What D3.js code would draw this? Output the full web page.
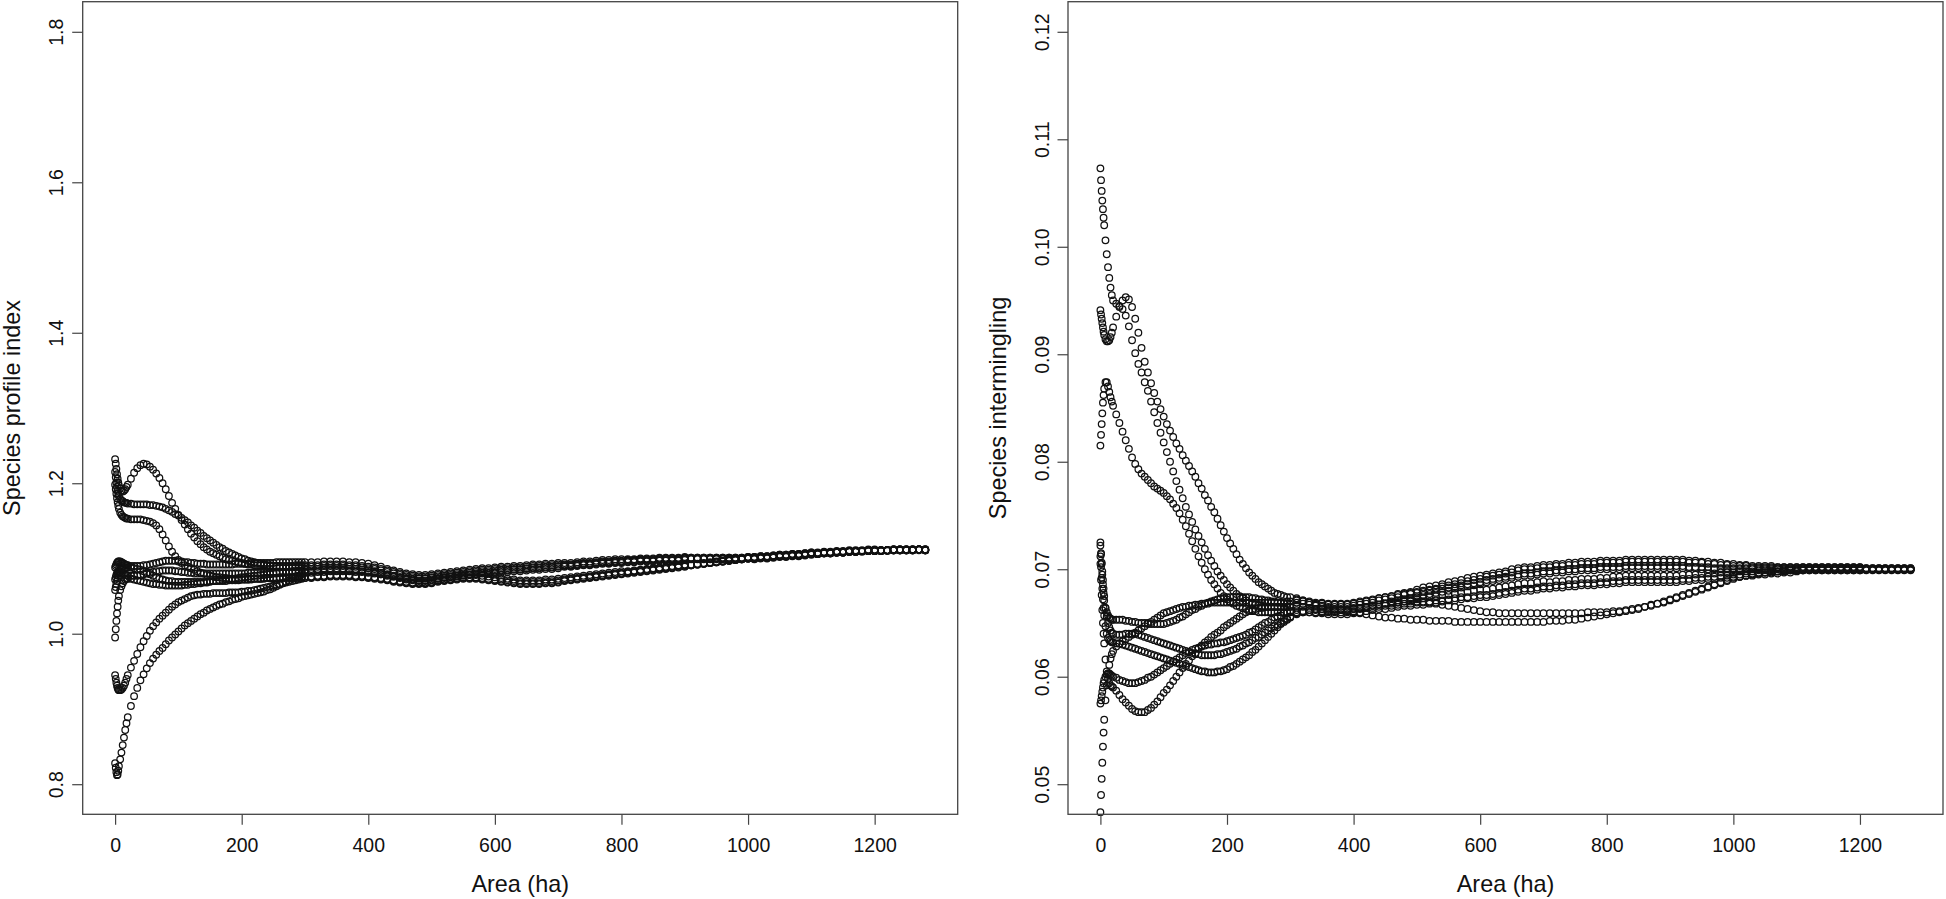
<!DOCTYPE html>
<html>
<head>
<meta charset="utf-8">
<script src="https://cdn.jsdelivr.net/npm/d3@7"></script>
<style>
  html, body { margin: 0; padding: 0; background: #fff; }
  svg { display: block; }
</style>
</head>
<body>
<div id="chart"></div>
<script>
// Plot areas (ha), shared by every series of both panels.
const areas = [0, 1, 2, 3, 4, 5, 6, 8, 10, 12, 14, 16, 18, 20,
  25, 30, 35, 40, 45, 50, 55, 60, 65, 70,
  75, 80, 85, 90, 95, 100, 105, 110, 115, 120,
  125, 130, 135, 140, 145, 150, 155, 160, 165, 170,
  175, 180, 185, 190, 195, 200, 205, 210, 215, 220,
  225, 230, 235, 240, 245, 250, 255, 260, 265, 270,
  275, 280, 285, 290, 295, 300,
  310, 320, 330, 340, 350, 360, 370, 380, 390, 400,
  410, 420, 430, 440, 450, 460, 470, 480, 490, 500,
  510, 520, 530, 540, 550, 560, 570, 580, 590, 600,
  610, 620, 630, 640, 650, 660, 670, 680, 690, 700,
  710, 720, 730, 740, 750, 760, 770, 780, 790, 800,
  810, 820, 830, 840, 850, 860, 870, 880, 890, 900,
  910, 920, 930, 940, 950, 960, 970, 980, 990, 1000,
  1010, 1020, 1030, 1040, 1050, 1060, 1070, 1080, 1090, 1100,
  1110, 1120, 1130, 1140, 1150, 1160, 1170, 1180, 1190, 1200,
  1210, 1220, 1230, 1240, 1250, 1260, 1270, 1280];

// Species profile index, one array per series.
const profile1 = [1.232, 1.226, 1.219, 1.212, 1.206, 1.201, 1.197, 1.193, 1.190, 1.189, 1.190, 1.192, 1.195, 1.198,
  1.206, 1.214, 1.220, 1.224, 1.226, 1.225, 1.222, 1.218, 1.213, 1.207,
  1.200, 1.192, 1.183, 1.174, 1.166, 1.158, 1.151, 1.145, 1.139, 1.133,
  1.128, 1.123, 1.119, 1.115, 1.112, 1.109, 1.107, 1.105, 1.103, 1.101,
  1.099, 1.098, 1.097, 1.096, 1.095, 1.094, 1.093, 1.092, 1.092, 1.091,
  1.091, 1.091, 1.091, 1.090, 1.090, 1.090, 1.090, 1.090, 1.090, 1.090,
  1.090, 1.090, 1.091, 1.091, 1.091, 1.091,
  1.091, 1.091, 1.092, 1.092, 1.092, 1.092, 1.091, 1.091, 1.090, 1.089,
  1.088, 1.086, 1.084, 1.082, 1.080, 1.078, 1.077, 1.076, 1.076, 1.077,
  1.078, 1.079, 1.080, 1.081, 1.082, 1.083, 1.084, 1.085, 1.085, 1.086,
  1.087, 1.087, 1.088, 1.088, 1.089, 1.090, 1.090, 1.091, 1.091, 1.092,
  1.092, 1.092, 1.093, 1.094, 1.094, 1.095, 1.096, 1.096, 1.097, 1.097,
  1.098, 1.098, 1.099, 1.099, 1.099, 1.100, 1.100, 1.100, 1.100, 1.101,
  1.101, 1.101, 1.101, 1.101, 1.101, 1.101, 1.101, 1.101, 1.101, 1.102,
  1.102, 1.103, 1.103, 1.104, 1.105, 1.105, 1.106, 1.106, 1.107, 1.108,
  1.107, 1.108, 1.108, 1.109, 1.109, 1.110, 1.110, 1.110, 1.111, 1.111,
  1.111, 1.111, 1.112, 1.112, 1.112, 1.112, 1.112, 1.112];

const profile2 = [1.215, 1.208, 1.201, 1.195, 1.190, 1.186, 1.183, 1.179, 1.177, 1.176, 1.175, 1.174, 1.174, 1.173,
  1.173, 1.172, 1.172, 1.172, 1.172, 1.172, 1.171, 1.171, 1.170, 1.169,
  1.168, 1.166, 1.164, 1.162, 1.159, 1.157, 1.154, 1.151, 1.148, 1.144,
  1.141, 1.137, 1.134, 1.130, 1.127, 1.124, 1.121, 1.118, 1.115, 1.113,
  1.110, 1.108, 1.106, 1.104, 1.102, 1.100, 1.099, 1.097, 1.096, 1.095,
  1.094, 1.093, 1.092, 1.091, 1.091, 1.090, 1.090, 1.089, 1.089, 1.089,
  1.089, 1.089, 1.089, 1.089, 1.089, 1.089,
  1.089, 1.089, 1.090, 1.090, 1.090, 1.090, 1.089, 1.089, 1.088, 1.087,
  1.086, 1.084, 1.082, 1.080, 1.078, 1.076, 1.075, 1.074, 1.074, 1.075,
  1.076, 1.077, 1.078, 1.079, 1.080, 1.081, 1.082, 1.083, 1.083, 1.084,
  1.085, 1.085, 1.086, 1.086, 1.087, 1.088, 1.088, 1.089, 1.089, 1.090,
  1.091, 1.091, 1.092, 1.093, 1.093, 1.094, 1.095, 1.095, 1.096, 1.096,
  1.097, 1.097, 1.098, 1.098, 1.098, 1.099, 1.099, 1.099, 1.099, 1.100,
  1.100, 1.100, 1.100, 1.100, 1.100, 1.100, 1.100, 1.100, 1.100, 1.101,
  1.101, 1.102, 1.102, 1.103, 1.104, 1.104, 1.105, 1.105, 1.106, 1.107,
  1.107, 1.108, 1.108, 1.109, 1.109, 1.110, 1.110, 1.110, 1.111, 1.111,
  1.111, 1.111, 1.112, 1.112, 1.112, 1.112, 1.112, 1.112];

const profile3 = [1.198, 1.192, 1.186, 1.180, 1.175, 1.170, 1.166, 1.161, 1.158, 1.156, 1.155, 1.154, 1.153, 1.153,
  1.152, 1.152, 1.152, 1.152, 1.151, 1.150, 1.149, 1.147, 1.144, 1.139,
  1.132, 1.124, 1.116, 1.109, 1.103, 1.098, 1.094, 1.091, 1.089, 1.087,
  1.085, 1.083, 1.081, 1.080, 1.078, 1.077, 1.076, 1.075, 1.075, 1.074,
  1.074, 1.073, 1.073, 1.073, 1.072, 1.072, 1.072, 1.072, 1.073, 1.073,
  1.073, 1.073, 1.074, 1.074, 1.074, 1.074, 1.074, 1.074, 1.074, 1.074,
  1.074, 1.074, 1.074, 1.074, 1.074, 1.074,
  1.074, 1.075, 1.075, 1.076, 1.076, 1.076, 1.076, 1.075, 1.075, 1.074,
  1.073, 1.072, 1.071, 1.069, 1.068, 1.067, 1.066, 1.066, 1.066, 1.067,
  1.069, 1.070, 1.071, 1.072, 1.073, 1.073, 1.073, 1.072, 1.071, 1.070,
  1.069, 1.068, 1.067, 1.066, 1.066, 1.066, 1.066, 1.067, 1.067, 1.068,
  1.070, 1.071, 1.072, 1.073, 1.074, 1.075, 1.076, 1.077, 1.078, 1.079,
  1.080, 1.081, 1.082, 1.083, 1.084, 1.085, 1.086, 1.087, 1.088, 1.089,
  1.091, 1.092, 1.093, 1.094, 1.095, 1.096, 1.097, 1.098, 1.099, 1.100,
  1.100, 1.101, 1.101, 1.102, 1.103, 1.103, 1.104, 1.104, 1.105, 1.106,
  1.106, 1.107, 1.107, 1.108, 1.108, 1.109, 1.109, 1.110, 1.110, 1.110,
  1.110, 1.111, 1.111, 1.111, 1.111, 1.111, 1.112, 1.111];

const profile4 = [1.088, 1.090, 1.092, 1.094, 1.095, 1.096, 1.096, 1.096, 1.095, 1.094, 1.093, 1.092, 1.091, 1.091,
  1.090, 1.090, 1.090, 1.090, 1.091, 1.091, 1.092, 1.093, 1.094, 1.095,
  1.096, 1.097, 1.097, 1.097, 1.097, 1.096, 1.096, 1.095, 1.095, 1.094,
  1.094, 1.093, 1.093, 1.093, 1.092, 1.092, 1.092, 1.092, 1.092, 1.092,
  1.092, 1.092, 1.092, 1.093, 1.093, 1.093, 1.093, 1.093, 1.094, 1.094,
  1.094, 1.094, 1.094, 1.094, 1.094, 1.094, 1.095, 1.095, 1.095, 1.095,
  1.095, 1.095, 1.095, 1.095, 1.095, 1.095,
  1.095, 1.095, 1.096, 1.096, 1.096, 1.096, 1.095, 1.095, 1.094, 1.093,
  1.091, 1.089, 1.086, 1.084, 1.082, 1.080, 1.079, 1.078, 1.078, 1.079,
  1.080, 1.081, 1.082, 1.083, 1.084, 1.085, 1.086, 1.087, 1.087, 1.088,
  1.089, 1.089, 1.090, 1.090, 1.091, 1.092, 1.092, 1.093, 1.093, 1.094,
  1.094, 1.094, 1.095, 1.096, 1.096, 1.097, 1.098, 1.098, 1.099, 1.099,
  1.099, 1.099, 1.100, 1.100, 1.100, 1.101, 1.101, 1.101, 1.101, 1.102,
  1.101, 1.101, 1.101, 1.101, 1.101, 1.101, 1.101, 1.101, 1.101, 1.102,
  1.102, 1.103, 1.103, 1.104, 1.105, 1.105, 1.106, 1.106, 1.107, 1.108,
  1.108, 1.109, 1.109, 1.110, 1.110, 1.111, 1.111, 1.111, 1.112, 1.112,
  1.111, 1.111, 1.112, 1.112, 1.112, 1.112, 1.112, 1.112];

const profile5 = [1.072, 1.075, 1.078, 1.080, 1.082, 1.083, 1.083, 1.082, 1.081, 1.080, 1.079, 1.078, 1.078, 1.077,
  1.077, 1.077, 1.077, 1.078, 1.079, 1.080, 1.081, 1.082, 1.083, 1.083,
  1.084, 1.084, 1.084, 1.084, 1.083, 1.083, 1.082, 1.082, 1.081, 1.081,
  1.080, 1.080, 1.080, 1.080, 1.080, 1.080, 1.080, 1.080, 1.080, 1.080,
  1.080, 1.080, 1.080, 1.080, 1.080, 1.080, 1.080, 1.081, 1.081, 1.081,
  1.081, 1.081, 1.081, 1.081, 1.081, 1.081, 1.081, 1.081, 1.081, 1.081,
  1.081, 1.081, 1.081, 1.081, 1.081, 1.081,
  1.081, 1.082, 1.082, 1.083, 1.083, 1.083, 1.083, 1.082, 1.082, 1.081,
  1.080, 1.079, 1.078, 1.076, 1.075, 1.074, 1.073, 1.073, 1.073, 1.074,
  1.074, 1.075, 1.076, 1.077, 1.078, 1.078, 1.078, 1.077, 1.076, 1.075,
  1.074, 1.073, 1.072, 1.071, 1.071, 1.071, 1.071, 1.072, 1.072, 1.073,
  1.074, 1.075, 1.076, 1.077, 1.078, 1.079, 1.080, 1.081, 1.082, 1.083,
  1.083, 1.084, 1.085, 1.086, 1.087, 1.088, 1.089, 1.090, 1.091, 1.092,
  1.092, 1.093, 1.094, 1.095, 1.096, 1.097, 1.098, 1.099, 1.100, 1.101,
  1.101, 1.102, 1.102, 1.103, 1.104, 1.104, 1.105, 1.105, 1.106, 1.107,
  1.106, 1.107, 1.107, 1.108, 1.108, 1.109, 1.109, 1.110, 1.110, 1.110,
  1.110, 1.111, 1.111, 1.111, 1.111, 1.111, 1.112, 1.111];

const profile6 = [0.995, 1.006, 1.017, 1.027, 1.036, 1.044, 1.050, 1.058, 1.063, 1.067, 1.070, 1.072, 1.073, 1.073,
  1.073, 1.072, 1.071, 1.070, 1.069, 1.068, 1.067, 1.066, 1.066, 1.065,
  1.065, 1.064, 1.064, 1.064, 1.064, 1.064, 1.064, 1.065, 1.065, 1.066,
  1.066, 1.067, 1.067, 1.068, 1.068, 1.069, 1.070, 1.070, 1.071, 1.071,
  1.072, 1.072, 1.073, 1.073, 1.074, 1.075, 1.075, 1.076, 1.076, 1.077,
  1.077, 1.078, 1.078, 1.079, 1.079, 1.080, 1.080, 1.081, 1.081, 1.082,
  1.082, 1.083, 1.083, 1.084, 1.084, 1.085,
  1.086, 1.086, 1.087, 1.087, 1.087, 1.087, 1.086, 1.086, 1.085, 1.084,
  1.083, 1.081, 1.079, 1.077, 1.075, 1.073, 1.072, 1.071, 1.071, 1.072,
  1.073, 1.074, 1.075, 1.076, 1.077, 1.078, 1.079, 1.080, 1.080, 1.081,
  1.082, 1.082, 1.083, 1.083, 1.084, 1.085, 1.085, 1.086, 1.086, 1.087,
  1.089, 1.089, 1.090, 1.091, 1.091, 1.092, 1.093, 1.093, 1.094, 1.094,
  1.095, 1.095, 1.096, 1.096, 1.096, 1.097, 1.097, 1.097, 1.097, 1.098,
  1.099, 1.099, 1.099, 1.099, 1.099, 1.099, 1.099, 1.099, 1.099, 1.100,
  1.100, 1.101, 1.101, 1.102, 1.103, 1.103, 1.104, 1.104, 1.105, 1.106,
  1.107, 1.108, 1.108, 1.109, 1.109, 1.110, 1.110, 1.110, 1.111, 1.111,
  1.111, 1.111, 1.112, 1.112, 1.112, 1.112, 1.112, 1.112];

const profile7 = [1.058, 1.062, 1.066, 1.070, 1.074, 1.077, 1.080, 1.083, 1.085, 1.086, 1.087, 1.088, 1.088, 1.088,
  1.088, 1.087, 1.086, 1.085, 1.083, 1.081, 1.079, 1.077, 1.075, 1.073,
  1.072, 1.071, 1.070, 1.070, 1.069, 1.069, 1.069, 1.069, 1.069, 1.069,
  1.069, 1.069, 1.069, 1.069, 1.069, 1.070, 1.070, 1.070, 1.070, 1.070,
  1.070, 1.071, 1.071, 1.071, 1.071, 1.072, 1.072, 1.072, 1.072, 1.073,
  1.073, 1.073, 1.073, 1.074, 1.074, 1.074, 1.074, 1.075, 1.075, 1.075,
  1.075, 1.075, 1.076, 1.076, 1.076, 1.076,
  1.076, 1.077, 1.077, 1.078, 1.078, 1.078, 1.078, 1.077, 1.077, 1.076,
  1.075, 1.074, 1.073, 1.071, 1.070, 1.069, 1.068, 1.068, 1.068, 1.069,
  1.071, 1.072, 1.073, 1.074, 1.075, 1.075, 1.075, 1.074, 1.073, 1.072,
  1.072, 1.071, 1.070, 1.069, 1.069, 1.069, 1.069, 1.070, 1.070, 1.071,
  1.072, 1.073, 1.074, 1.075, 1.076, 1.077, 1.078, 1.079, 1.080, 1.081,
  1.082, 1.083, 1.084, 1.085, 1.086, 1.087, 1.088, 1.089, 1.090, 1.091,
  1.091, 1.092, 1.093, 1.094, 1.095, 1.096, 1.097, 1.098, 1.099, 1.100,
  1.099, 1.100, 1.100, 1.101, 1.102, 1.102, 1.103, 1.103, 1.104, 1.105,
  1.106, 1.107, 1.107, 1.108, 1.108, 1.109, 1.109, 1.110, 1.110, 1.110,
  1.110, 1.111, 1.111, 1.111, 1.111, 1.111, 1.112, 1.111];

const profile8 = [0.945, 0.940, 0.935, 0.931, 0.928, 0.926, 0.925, 0.925, 0.926, 0.928, 0.931, 0.935, 0.940, 0.945,
  0.955, 0.964, 0.973, 0.982, 0.990, 0.997, 1.004, 1.010, 1.015, 1.020,
  1.024, 1.028, 1.032, 1.036, 1.039, 1.042, 1.044, 1.046, 1.048, 1.050,
  1.051, 1.052, 1.052, 1.053, 1.053, 1.053, 1.054, 1.054, 1.054, 1.054,
  1.054, 1.055, 1.055, 1.055, 1.055, 1.056, 1.056, 1.057, 1.057, 1.058,
  1.059, 1.060, 1.061, 1.062, 1.063, 1.064, 1.065, 1.066, 1.067, 1.068,
  1.069, 1.070, 1.071, 1.072, 1.073, 1.074,
  1.075, 1.076, 1.076, 1.077, 1.077, 1.077, 1.077, 1.076, 1.076, 1.075,
  1.074, 1.073, 1.072, 1.070, 1.069, 1.068, 1.067, 1.067, 1.067, 1.068,
  1.070, 1.071, 1.072, 1.073, 1.074, 1.074, 1.074, 1.073, 1.072, 1.071,
  1.070, 1.069, 1.068, 1.067, 1.067, 1.067, 1.067, 1.068, 1.068, 1.069,
  1.071, 1.072, 1.073, 1.074, 1.075, 1.076, 1.077, 1.078, 1.079, 1.080,
  1.081, 1.082, 1.083, 1.084, 1.085, 1.086, 1.087, 1.088, 1.089, 1.090,
  1.091, 1.092, 1.093, 1.094, 1.095, 1.096, 1.097, 1.098, 1.099, 1.100,
  1.100, 1.101, 1.101, 1.102, 1.103, 1.103, 1.104, 1.104, 1.105, 1.106,
  1.106, 1.107, 1.107, 1.108, 1.108, 1.109, 1.109, 1.110, 1.110, 1.110,
  1.110, 1.111, 1.111, 1.111, 1.111, 1.111, 1.112, 1.111];

const profile9 = [0.828, 0.822, 0.816, 0.812, 0.813, 0.818, 0.824, 0.833, 0.842, 0.852, 0.862, 0.872, 0.881, 0.889,
  0.904, 0.917, 0.928, 0.938, 0.946, 0.954, 0.961, 0.967, 0.972, 0.977,
  0.981, 0.986, 0.991, 0.995, 0.999, 1.003, 1.007, 1.011, 1.014, 1.017,
  1.020, 1.023, 1.026, 1.028, 1.031, 1.033, 1.035, 1.037, 1.039, 1.040,
  1.042, 1.043, 1.045, 1.046, 1.047, 1.049, 1.050, 1.051, 1.052, 1.053,
  1.054, 1.055, 1.056, 1.058, 1.059, 1.061, 1.063, 1.065, 1.067, 1.069,
  1.071, 1.073, 1.075, 1.077, 1.079, 1.081,
  1.084, 1.084, 1.085, 1.085, 1.085, 1.085, 1.084, 1.084, 1.083, 1.082,
  1.081, 1.079, 1.077, 1.076, 1.074, 1.072, 1.071, 1.070, 1.070, 1.071,
  1.073, 1.075, 1.076, 1.077, 1.078, 1.079, 1.080, 1.081, 1.081, 1.082,
  1.084, 1.084, 1.085, 1.085, 1.086, 1.087, 1.087, 1.088, 1.088, 1.089,
  1.090, 1.090, 1.091, 1.092, 1.092, 1.093, 1.094, 1.094, 1.095, 1.095,
  1.096, 1.096, 1.097, 1.097, 1.097, 1.098, 1.098, 1.098, 1.098, 1.099,
  1.100, 1.100, 1.100, 1.100, 1.100, 1.100, 1.100, 1.100, 1.100, 1.101,
  1.101, 1.102, 1.102, 1.103, 1.104, 1.104, 1.105, 1.105, 1.106, 1.107,
  1.106, 1.107, 1.107, 1.108, 1.108, 1.109, 1.109, 1.109, 1.110, 1.110,
  1.110, 1.110, 1.111, 1.111, 1.111, 1.111, 1.111, 1.111];

// Species intermingling, one array per series.
const mingling1 = [0.1073, 0.1062, 0.1052, 0.1043, 0.1035, 0.1027, 0.1020, 0.1006, 0.0993, 0.0981, 0.0971, 0.0962, 0.0955, 0.0950,
  0.0947, 0.0945, 0.0942, 0.0936, 0.0926, 0.0913, 0.0901, 0.0891, 0.0883, 0.0874,
  0.0866, 0.0856, 0.0846, 0.0836, 0.0827, 0.0818, 0.0809, 0.0800, 0.0791, 0.0782,
  0.0774, 0.0766, 0.0758, 0.0751, 0.0744, 0.0737, 0.0731, 0.0725, 0.0719, 0.0713,
  0.0708, 0.0703, 0.0698, 0.0694, 0.0690, 0.0686, 0.0683, 0.0680, 0.0677, 0.0675,
  0.0673, 0.0671, 0.0669, 0.0668, 0.0667, 0.0666, 0.0665, 0.0665, 0.0665, 0.0665,
  0.0665, 0.0665, 0.0665, 0.0665, 0.0665, 0.0665,
  0.0669, 0.0668, 0.0667, 0.0666, 0.0666, 0.0665, 0.0665, 0.0665, 0.0665, 0.0666,
  0.0667, 0.0668, 0.0669, 0.0671, 0.0672, 0.0673, 0.0674, 0.0676, 0.0677, 0.0678,
  0.0680, 0.0681, 0.0682, 0.0684, 0.0685, 0.0686, 0.0687, 0.0689, 0.0690, 0.0691,
  0.0693, 0.0694, 0.0695, 0.0696, 0.0697, 0.0699, 0.0700, 0.0700, 0.0701, 0.0702,
  0.0702, 0.0703, 0.0703, 0.0704, 0.0704, 0.0705, 0.0705, 0.0705, 0.0706, 0.0706,
  0.0706, 0.0706, 0.0707, 0.0707, 0.0707, 0.0707, 0.0707, 0.0707, 0.0707, 0.0707,
  0.0707, 0.0707, 0.0706, 0.0706, 0.0706, 0.0705, 0.0705, 0.0704, 0.0704, 0.0703,
  0.0703, 0.0703, 0.0702, 0.0702, 0.0702, 0.0702, 0.0702, 0.0702, 0.0702, 0.0702,
  0.0702, 0.0702, 0.0702, 0.0702, 0.0702, 0.0702, 0.0702, 0.0702, 0.0702, 0.0702,
  0.0701, 0.0701, 0.0701, 0.0701, 0.0701, 0.0701, 0.0701, 0.0701];

const mingling2 = [0.0941, 0.0937, 0.0933, 0.0929, 0.0925, 0.0921, 0.0918, 0.0914, 0.0912, 0.0912, 0.0913, 0.0916, 0.0920, 0.0925,
  0.0935, 0.0944, 0.0950, 0.0953, 0.0951, 0.0944, 0.0933, 0.0920, 0.0906, 0.0893,
  0.0883, 0.0873, 0.0864, 0.0856, 0.0849, 0.0842, 0.0835, 0.0829, 0.0823, 0.0817,
  0.0812, 0.0806, 0.0801, 0.0796, 0.0791, 0.0786, 0.0780, 0.0775, 0.0769, 0.0764,
  0.0758, 0.0753, 0.0747, 0.0741, 0.0735, 0.0729, 0.0724, 0.0719, 0.0714, 0.0709,
  0.0705, 0.0701, 0.0697, 0.0694, 0.0691, 0.0688, 0.0686, 0.0684, 0.0682, 0.0680,
  0.0678, 0.0677, 0.0676, 0.0675, 0.0674, 0.0674,
  0.0673, 0.0671, 0.0669, 0.0667, 0.0665, 0.0664, 0.0663, 0.0662, 0.0661, 0.0660,
  0.0659, 0.0658, 0.0657, 0.0656, 0.0655, 0.0655, 0.0654, 0.0654, 0.0653, 0.0653,
  0.0653, 0.0652, 0.0652, 0.0652, 0.0652, 0.0651, 0.0651, 0.0651, 0.0651, 0.0651,
  0.0651, 0.0651, 0.0651, 0.0651, 0.0651, 0.0651, 0.0651, 0.0651, 0.0651, 0.0651,
  0.0652, 0.0652, 0.0652, 0.0653, 0.0653, 0.0654, 0.0655, 0.0656, 0.0657, 0.0658,
  0.0659, 0.0660, 0.0661, 0.0662, 0.0663, 0.0665, 0.0666, 0.0668, 0.0669, 0.0671,
  0.0673, 0.0675, 0.0677, 0.0679, 0.0681, 0.0683, 0.0685, 0.0687, 0.0689, 0.0691,
  0.0693, 0.0694, 0.0695, 0.0696, 0.0697, 0.0698, 0.0698, 0.0699, 0.0699, 0.0700,
  0.0700, 0.0700, 0.0700, 0.0700, 0.0700, 0.0700, 0.0700, 0.0700, 0.0700, 0.0700,
  0.0700, 0.0700, 0.0700, 0.0700, 0.0700, 0.0700, 0.0700, 0.0700];

const mingling3 = [0.0815, 0.0825, 0.0835, 0.0845, 0.0855, 0.0862, 0.0868, 0.0874, 0.0874, 0.0870, 0.0865, 0.0860, 0.0856, 0.0852,
  0.0844, 0.0836, 0.0828, 0.0820, 0.0812, 0.0804, 0.0798, 0.0793, 0.0789, 0.0786,
  0.0783, 0.0780, 0.0777, 0.0775, 0.0773, 0.0771, 0.0768, 0.0765, 0.0761, 0.0757,
  0.0752, 0.0746, 0.0740, 0.0733, 0.0726, 0.0719, 0.0712, 0.0706, 0.0700, 0.0695,
  0.0690, 0.0686, 0.0682, 0.0678, 0.0675, 0.0672, 0.0670, 0.0668, 0.0666, 0.0665,
  0.0664, 0.0663, 0.0662, 0.0661, 0.0661, 0.0660, 0.0660, 0.0660, 0.0660, 0.0660,
  0.0660, 0.0660, 0.0660, 0.0660, 0.0660, 0.0660,
  0.0660, 0.0660, 0.0660, 0.0660, 0.0660, 0.0661, 0.0661, 0.0662, 0.0662, 0.0663,
  0.0664, 0.0665, 0.0666, 0.0667, 0.0668, 0.0669, 0.0669, 0.0670, 0.0670, 0.0670,
  0.0670, 0.0669, 0.0668, 0.0667, 0.0666, 0.0665, 0.0664, 0.0663, 0.0662, 0.0661,
  0.0660, 0.0660, 0.0659, 0.0659, 0.0659, 0.0659, 0.0659, 0.0659, 0.0659, 0.0659,
  0.0659, 0.0659, 0.0659, 0.0659, 0.0659, 0.0659, 0.0660, 0.0660, 0.0660, 0.0660,
  0.0661, 0.0661, 0.0662, 0.0663, 0.0664, 0.0665, 0.0667, 0.0668, 0.0670, 0.0672,
  0.0674, 0.0676, 0.0678, 0.0680, 0.0682, 0.0684, 0.0686, 0.0688, 0.0690, 0.0692,
  0.0693, 0.0694, 0.0695, 0.0696, 0.0697, 0.0697, 0.0698, 0.0698, 0.0699, 0.0699,
  0.0699, 0.0700, 0.0700, 0.0700, 0.0700, 0.0700, 0.0700, 0.0700, 0.0700, 0.0700,
  0.0700, 0.0700, 0.0700, 0.0700, 0.0700, 0.0700, 0.0700, 0.0700];

const mingling4 = [0.0725, 0.0715, 0.0705, 0.0695, 0.0686, 0.0678, 0.0671, 0.0664, 0.0660, 0.0657, 0.0655, 0.0654, 0.0653, 0.0653,
  0.0653, 0.0653, 0.0653, 0.0652, 0.0652, 0.0651, 0.0651, 0.0650, 0.0650, 0.0650,
  0.0650, 0.0649, 0.0649, 0.0649, 0.0649, 0.0649, 0.0650, 0.0651, 0.0652, 0.0653,
  0.0655, 0.0656, 0.0658, 0.0660, 0.0662, 0.0663, 0.0665, 0.0666, 0.0668, 0.0669,
  0.0670, 0.0671, 0.0672, 0.0673, 0.0673, 0.0674, 0.0674, 0.0674, 0.0674, 0.0674,
  0.0674, 0.0674, 0.0674, 0.0673, 0.0673, 0.0672, 0.0672, 0.0671, 0.0671, 0.0670,
  0.0670, 0.0669, 0.0669, 0.0668, 0.0668, 0.0667,
  0.0671, 0.0670, 0.0669, 0.0668, 0.0668, 0.0667, 0.0667, 0.0667, 0.0667, 0.0668,
  0.0669, 0.0670, 0.0671, 0.0673, 0.0674, 0.0675, 0.0677, 0.0678, 0.0679, 0.0681,
  0.0683, 0.0684, 0.0685, 0.0686, 0.0688, 0.0689, 0.0690, 0.0692, 0.0693, 0.0694,
  0.0695, 0.0696, 0.0697, 0.0698, 0.0700, 0.0701, 0.0702, 0.0702, 0.0703, 0.0704,
  0.0704, 0.0705, 0.0705, 0.0706, 0.0706, 0.0707, 0.0707, 0.0707, 0.0708, 0.0708,
  0.0708, 0.0708, 0.0709, 0.0709, 0.0709, 0.0709, 0.0709, 0.0709, 0.0709, 0.0709,
  0.0709, 0.0709, 0.0708, 0.0708, 0.0707, 0.0707, 0.0706, 0.0706, 0.0705, 0.0705,
  0.0704, 0.0704, 0.0703, 0.0703, 0.0703, 0.0703, 0.0702, 0.0702, 0.0702, 0.0702,
  0.0702, 0.0702, 0.0702, 0.0702, 0.0702, 0.0702, 0.0702, 0.0702, 0.0702, 0.0702,
  0.0701, 0.0701, 0.0701, 0.0701, 0.0701, 0.0701, 0.0701, 0.0701];

const mingling5 = [0.0712, 0.0702, 0.0692, 0.0682, 0.0672, 0.0664, 0.0657, 0.0647, 0.0640, 0.0636, 0.0634, 0.0633, 0.0632, 0.0632,
  0.0631, 0.0631, 0.0630, 0.0629, 0.0628, 0.0627, 0.0626, 0.0625, 0.0624, 0.0623,
  0.0622, 0.0621, 0.0620, 0.0619, 0.0618, 0.0617, 0.0616, 0.0615, 0.0614, 0.0613,
  0.0612, 0.0611, 0.0610, 0.0609, 0.0608, 0.0607, 0.0606, 0.0605, 0.0605, 0.0604,
  0.0604, 0.0604, 0.0605, 0.0605, 0.0606, 0.0607, 0.0609, 0.0610, 0.0612, 0.0614,
  0.0616, 0.0618, 0.0620, 0.0623, 0.0625, 0.0628, 0.0631, 0.0634, 0.0637, 0.0640,
  0.0643, 0.0646, 0.0649, 0.0651, 0.0654, 0.0656,
  0.0659, 0.0661, 0.0662, 0.0662, 0.0661, 0.0660, 0.0660, 0.0660, 0.0660, 0.0661,
  0.0663, 0.0664, 0.0664, 0.0665, 0.0666, 0.0666, 0.0667, 0.0668, 0.0668, 0.0669,
  0.0669, 0.0670, 0.0671, 0.0671, 0.0672, 0.0673, 0.0674, 0.0674, 0.0675, 0.0676,
  0.0676, 0.0677, 0.0678, 0.0679, 0.0680, 0.0681, 0.0682, 0.0682, 0.0683, 0.0684,
  0.0684, 0.0685, 0.0685, 0.0686, 0.0686, 0.0687, 0.0687, 0.0687, 0.0688, 0.0688,
  0.0689, 0.0689, 0.0690, 0.0690, 0.0690, 0.0690, 0.0690, 0.0690, 0.0690, 0.0690,
  0.0690, 0.0691, 0.0691, 0.0692, 0.0692, 0.0693, 0.0693, 0.0694, 0.0694, 0.0695,
  0.0695, 0.0696, 0.0696, 0.0697, 0.0697, 0.0698, 0.0698, 0.0698, 0.0699, 0.0699,
  0.0699, 0.0699, 0.0699, 0.0699, 0.0699, 0.0699, 0.0699, 0.0699, 0.0699, 0.0699,
  0.0700, 0.0700, 0.0700, 0.0700, 0.0700, 0.0700, 0.0700, 0.0700];

const mingling6 = [0.0705, 0.0690, 0.0676, 0.0662, 0.0650, 0.0640, 0.0631, 0.0616, 0.0605, 0.0598, 0.0594, 0.0592, 0.0591, 0.0590,
  0.0587, 0.0583, 0.0579, 0.0576, 0.0573, 0.0570, 0.0568, 0.0567, 0.0567, 0.0567,
  0.0569, 0.0571, 0.0574, 0.0577, 0.0581, 0.0585, 0.0588, 0.0592, 0.0596, 0.0600,
  0.0604, 0.0608, 0.0612, 0.0615, 0.0619, 0.0622, 0.0626, 0.0629, 0.0632, 0.0634,
  0.0637, 0.0639, 0.0641, 0.0643, 0.0646, 0.0648, 0.0650, 0.0652, 0.0654, 0.0656,
  0.0658, 0.0660, 0.0661, 0.0662, 0.0663, 0.0664, 0.0664, 0.0665, 0.0665, 0.0665,
  0.0665, 0.0665, 0.0665, 0.0665, 0.0665, 0.0665,
  0.0666, 0.0665, 0.0664, 0.0663, 0.0663, 0.0662, 0.0662, 0.0662, 0.0662, 0.0663,
  0.0664, 0.0665, 0.0666, 0.0667, 0.0668, 0.0670, 0.0671, 0.0672, 0.0673, 0.0674,
  0.0676, 0.0677, 0.0678, 0.0679, 0.0680, 0.0682, 0.0683, 0.0684, 0.0685, 0.0686,
  0.0688, 0.0689, 0.0690, 0.0691, 0.0692, 0.0693, 0.0694, 0.0694, 0.0695, 0.0696,
  0.0696, 0.0697, 0.0697, 0.0698, 0.0698, 0.0699, 0.0699, 0.0699, 0.0700, 0.0700,
  0.0700, 0.0700, 0.0701, 0.0701, 0.0701, 0.0701, 0.0701, 0.0701, 0.0701, 0.0701,
  0.0701, 0.0701, 0.0701, 0.0701, 0.0700, 0.0700, 0.0700, 0.0700, 0.0700, 0.0700,
  0.0700, 0.0700, 0.0700, 0.0700, 0.0700, 0.0700, 0.0700, 0.0700, 0.0700, 0.0700,
  0.0700, 0.0700, 0.0700, 0.0700, 0.0700, 0.0700, 0.0700, 0.0700, 0.0700, 0.0700,
  0.0700, 0.0700, 0.0700, 0.0700, 0.0700, 0.0700, 0.0700, 0.0700];

const mingling7 = [0.0575, 0.0578, 0.0582, 0.0586, 0.0590, 0.0594, 0.0597, 0.0600, 0.0602, 0.0603, 0.0603, 0.0602, 0.0601, 0.0600,
  0.0599, 0.0597, 0.0596, 0.0595, 0.0594, 0.0594, 0.0594, 0.0595, 0.0596, 0.0597,
  0.0599, 0.0600, 0.0602, 0.0604, 0.0606, 0.0608, 0.0610, 0.0612, 0.0614, 0.0616,
  0.0618, 0.0620, 0.0622, 0.0623, 0.0625, 0.0626, 0.0627, 0.0628, 0.0629, 0.0630,
  0.0630, 0.0631, 0.0631, 0.0632, 0.0632, 0.0633, 0.0634, 0.0635, 0.0636, 0.0637,
  0.0638, 0.0639, 0.0641, 0.0642, 0.0644, 0.0646, 0.0648, 0.0650, 0.0651, 0.0653,
  0.0655, 0.0656, 0.0657, 0.0659, 0.0660, 0.0661,
  0.0662, 0.0661, 0.0660, 0.0659, 0.0659, 0.0658, 0.0658, 0.0658, 0.0658, 0.0659,
  0.0660, 0.0661, 0.0662, 0.0663, 0.0663, 0.0664, 0.0665, 0.0666, 0.0666, 0.0667,
  0.0667, 0.0668, 0.0669, 0.0670, 0.0671, 0.0671, 0.0672, 0.0673, 0.0673, 0.0674,
  0.0674, 0.0675, 0.0676, 0.0677, 0.0678, 0.0679, 0.0680, 0.0680, 0.0681, 0.0682,
  0.0682, 0.0683, 0.0683, 0.0684, 0.0684, 0.0685, 0.0685, 0.0685, 0.0686, 0.0686,
  0.0687, 0.0687, 0.0688, 0.0688, 0.0688, 0.0688, 0.0688, 0.0688, 0.0688, 0.0688,
  0.0688, 0.0689, 0.0689, 0.0690, 0.0690, 0.0691, 0.0691, 0.0692, 0.0692, 0.0693,
  0.0693, 0.0694, 0.0694, 0.0695, 0.0695, 0.0696, 0.0696, 0.0697, 0.0697, 0.0698,
  0.0699, 0.0699, 0.0699, 0.0699, 0.0699, 0.0699, 0.0699, 0.0699, 0.0699, 0.0699,
  0.0699, 0.0699, 0.0699, 0.0699, 0.0699, 0.0699, 0.0699, 0.0699];

const mingling8 = [0.0722, 0.0714, 0.0706, 0.0698, 0.0690, 0.0682, 0.0675, 0.0664, 0.0656, 0.0650, 0.0646, 0.0643, 0.0641, 0.0640,
  0.0639, 0.0639, 0.0639, 0.0640, 0.0640, 0.0640, 0.0640, 0.0639, 0.0638, 0.0637,
  0.0636, 0.0635, 0.0634, 0.0633, 0.0632, 0.0631, 0.0630, 0.0629, 0.0628, 0.0627,
  0.0626, 0.0625, 0.0624, 0.0623, 0.0622, 0.0621, 0.0621, 0.0620, 0.0620, 0.0620,
  0.0620, 0.0620, 0.0621, 0.0621, 0.0622, 0.0623, 0.0624, 0.0625, 0.0626, 0.0628,
  0.0629, 0.0631, 0.0632, 0.0634, 0.0636, 0.0637, 0.0639, 0.0641, 0.0643, 0.0645,
  0.0647, 0.0648, 0.0650, 0.0652, 0.0653, 0.0655,
  0.0658, 0.0660, 0.0662, 0.0663, 0.0663, 0.0663, 0.0663, 0.0663, 0.0663, 0.0664,
  0.0664, 0.0665, 0.0666, 0.0667, 0.0668, 0.0668, 0.0669, 0.0670, 0.0671, 0.0672,
  0.0673, 0.0674, 0.0675, 0.0676, 0.0676, 0.0677, 0.0678, 0.0679, 0.0680, 0.0681,
  0.0681, 0.0682, 0.0683, 0.0684, 0.0685, 0.0686, 0.0687, 0.0687, 0.0688, 0.0689,
  0.0688, 0.0689, 0.0689, 0.0690, 0.0690, 0.0691, 0.0691, 0.0691, 0.0692, 0.0692,
  0.0693, 0.0693, 0.0694, 0.0694, 0.0694, 0.0694, 0.0694, 0.0694, 0.0694, 0.0694,
  0.0694, 0.0695, 0.0695, 0.0695, 0.0696, 0.0696, 0.0696, 0.0697, 0.0697, 0.0697,
  0.0698, 0.0698, 0.0698, 0.0699, 0.0699, 0.0699, 0.0700, 0.0700, 0.0700, 0.0700,
  0.0701, 0.0701, 0.0701, 0.0701, 0.0701, 0.0701, 0.0701, 0.0701, 0.0701, 0.0701,
  0.0700, 0.0700, 0.0700, 0.0700, 0.0700, 0.0700, 0.0700, 0.0700];

const mingling9 = [0.0474, 0.0490, 0.0505, 0.0520, 0.0535, 0.0548, 0.0560, 0.0578, 0.0592, 0.0603, 0.0611, 0.0617, 0.0621, 0.0624,
  0.0628, 0.0631, 0.0633, 0.0635, 0.0637, 0.0639, 0.0641, 0.0643, 0.0645, 0.0647,
  0.0649, 0.0651, 0.0653, 0.0655, 0.0657, 0.0659, 0.0660, 0.0661, 0.0662, 0.0663,
  0.0664, 0.0665, 0.0665, 0.0666, 0.0666, 0.0667, 0.0667, 0.0668, 0.0668, 0.0668,
  0.0669, 0.0669, 0.0669, 0.0669, 0.0669, 0.0669, 0.0669, 0.0669, 0.0669, 0.0669,
  0.0669, 0.0669, 0.0669, 0.0669, 0.0669, 0.0669, 0.0669, 0.0669, 0.0669, 0.0669,
  0.0669, 0.0669, 0.0669, 0.0669, 0.0670, 0.0670,
  0.0672, 0.0671, 0.0670, 0.0669, 0.0669, 0.0668, 0.0668, 0.0668, 0.0668, 0.0669,
  0.0670, 0.0671, 0.0672, 0.0673, 0.0674, 0.0675, 0.0676, 0.0677, 0.0678, 0.0679,
  0.0679, 0.0680, 0.0681, 0.0682, 0.0683, 0.0684, 0.0685, 0.0686, 0.0687, 0.0688,
  0.0690, 0.0691, 0.0692, 0.0693, 0.0694, 0.0695, 0.0696, 0.0696, 0.0697, 0.0698,
  0.0698, 0.0699, 0.0699, 0.0700, 0.0700, 0.0701, 0.0701, 0.0701, 0.0702, 0.0702,
  0.0702, 0.0702, 0.0703, 0.0703, 0.0703, 0.0703, 0.0703, 0.0703, 0.0703, 0.0703,
  0.0703, 0.0703, 0.0702, 0.0702, 0.0702, 0.0702, 0.0701, 0.0701, 0.0701, 0.0701,
  0.0701, 0.0701, 0.0701, 0.0701, 0.0701, 0.0701, 0.0701, 0.0701, 0.0701, 0.0701,
  0.0701, 0.0701, 0.0701, 0.0701, 0.0701, 0.0701, 0.0701, 0.0701, 0.0701, 0.0701,
  0.0700, 0.0700, 0.0700, 0.0700, 0.0700, 0.0700, 0.0700, 0.0700];

// Tick labels and axis titles.
const areaTicks = [0, 200, 400, 600, 800, 1000, 1200];
const profileTicks = [0.8, 1.0, 1.2, 1.4, 1.6, 1.8];
const minglingTicks = [0.05, 0.06, 0.07, 0.08, 0.09, 0.10, 0.11, 0.12];
const profileLimits = [0.8, 1.8];
const minglingLimits = [0.05, 0.12];
const xTitle = 'Area (ha)';
const profileTitle = 'Species profile index';
const minglingTitle = 'Species intermingling';

function chart() {
  const attrs = {
    svgWidth: 1946,
    svgHeight: 899,
    plotTop: 1.7,
    plotBottom: 814.3,
    container: 'body',
    fontFamily: '"Liberation Sans", Arial, Helvetica, sans-serif',
    tickFontSize: 19.5,
    titleFontSize: 23.4,
    tickSize: 10.5,
    pointRadius: 3.3,
    frameColor: '#444',
    areas: null,
    panels: []
  };

  function main() {
    const container = d3.select(attrs.container);

    const svg = container
      .patternify({ tag: 'svg', selector: 'svg-chart-container' })
      .attr('width', attrs.svgWidth)
      .attr('height', attrs.svgHeight);

    svg.patternify({ tag: 'rect', selector: 'background' })
      .attr('width', attrs.svgWidth)
      .attr('height', attrs.svgHeight)
      .attr('fill', '#fff');

    svg.patternify({ tag: 'g', selector: 'panel', data: attrs.panels })
      .each(function (p) {
        drawPanel(d3.select(this), p);
      });
  }

  function drawPanel(g, p) {
    // R style "r" axis: 4% padding on each side.
    const xExtent = d3.extent(attrs.areas);
    const xPad = (xExtent[1] - xExtent[0]) * 0.04;
    const xScale = d3.scaleLinear()
      .domain([xExtent[0] - xPad, xExtent[1] + xPad])
      .range([p.left, p.right]);

    const yPad = (p.limits[1] - p.limits[0]) * 0.04;
    const yScale = d3.scaleLinear()
      .domain([p.limits[0] - yPad, p.limits[1] + yPad])
      .range([attrs.plotBottom, attrs.plotTop]);

    const points = p.series.flatMap((ys, k) => ys.map((v, i) => ({ x: attrs.areas[i], y: v, k })));

    g.patternify({ tag: 'g', selector: 'points' })
      .patternify({ tag: 'circle', selector: 'point', data: points })
      .attr('cx', d => xScale(d.x))
      .attr('cy', d => yScale(d.y))
      .attr('r', attrs.pointRadius)
      .attr('fill', 'none')
      .attr('stroke', '#111')
      .attr('stroke-width', 1.25);

    // Plot frame.
    g.patternify({ tag: 'rect', selector: 'frame' })
      .attr('x', p.left)
      .attr('y', attrs.plotTop)
      .attr('width', p.right - p.left)
      .attr('height', attrs.plotBottom - attrs.plotTop)
      .attr('fill', 'none')
      .attr('stroke', attrs.frameColor)
      .attr('stroke-width', 1.3);

    // Axes.
    const xAxis = d3.axisBottom(xScale)
      .tickValues(areaTicks)
      .tickSize(attrs.tickSize)
      .tickPadding(13)
      .tickFormat(d3.format('d'));

    g.patternify({ tag: 'g', selector: 'x-axis' })
      .attr('transform', 'translate(0,' + attrs.plotBottom + ')')
      .call(xAxis)
      .call(styleAxis);

    const yAxis = d3.axisLeft(yScale)
      .tickValues(p.ticks)
      .tickSize(attrs.tickSize)
      .tickFormat(d3.format(p.format));

    g.patternify({ tag: 'g', selector: 'y-axis' })
      .attr('transform', 'translate(' + p.left + ',0)')
      .call(yAxis)
      .call(styleAxis)
      .selectAll('text')
      .attr('transform', 'rotate(-90)')
      .attr('x', 0)
      .attr('y', -19.4)
      .attr('dy', 0)
      .attr('text-anchor', 'middle');

    // Titles.
    g.patternify({ tag: 'text', selector: 'x-title' })
      .attr('x', (p.left + p.right) / 2)
      .attr('y', 891.5)
      .attr('text-anchor', 'middle')
      .attr('font-family', attrs.fontFamily)
      .attr('font-size', attrs.titleFontSize)
      .attr('fill', '#111')
      .text(xTitle);

    g.patternify({ tag: 'text', selector: 'y-title' })
      .attr('transform', 'translate(' + (p.left - 62.3) + ',' + ((attrs.plotTop + attrs.plotBottom) / 2) + ') rotate(-90)')
      .attr('text-anchor', 'middle')
      .attr('font-family', attrs.fontFamily)
      .attr('font-size', attrs.titleFontSize)
      .attr('fill', '#111')
      .text(p.title);
  }

  function styleAxis(sel) {
    sel.select('.domain').remove();
    sel.attr('font-family', attrs.fontFamily).attr('font-size', attrs.tickFontSize);
    sel.selectAll('.tick line').attr('stroke', attrs.frameColor).attr('stroke-width', 1.2);
    sel.selectAll('.tick text').attr('fill', '#111');
  }

  d3.selection.prototype.patternify = function patternify(params) {
    const container = this;
    const selector = params.selector;
    const elementTag = params.tag;
    const data = params.data || [selector];

    const selection = container.selectAll('.' + selector).data(data, (d, i) => {
      if (typeof d === 'object' && d.id) {
        return d.id;
      }
      return i;
    });

    selection.exit().remove();
    const selection2 = selection.enter().append(elementTag).merge(selection);
    selection2.attr('class', selector);
    return selection2;
  };

  Object.keys(attrs).forEach((key) => {
    main[key] = function (_) {
      if (!arguments.length) {
        return attrs[key];
      }
      attrs[key] = _;
      return main;
    };
  });

  main.render = function render() {
    main();
    return main;
  };

  return main;
}

const allSeries = [profile1, profile2, profile3, profile4, profile5, profile6, profile7, profile8, profile9,
  mingling1, mingling2, mingling3, mingling4, mingling5, mingling6, mingling7, mingling8, mingling9];
allSeries.forEach((s, i) => {
  if (s.length !== areas.length) console.warn('series', i, 'has', s.length, 'values, expected', areas.length);
});

chart()
  .container('#chart')
  .areas(areas)
  .panels([
    {
      id: 'profile',
      left: 82.7,
      right: 957.7,
      limits: profileLimits,
      ticks: profileTicks,
      format: '.1f',
      title: profileTitle,
      series: [profile1, profile2, profile3, profile4, profile5, profile6, profile7, profile8, profile9]
    },
    {
      id: 'mingling',
      left: 1068,
      right: 1943,
      limits: minglingLimits,
      ticks: minglingTicks,
      format: '.2f',
      title: minglingTitle,
      series: [mingling1, mingling2, mingling3, mingling4, mingling5, mingling6, mingling7, mingling8, mingling9]
    }
  ])
  .render();
</script>
</body>
</html>
